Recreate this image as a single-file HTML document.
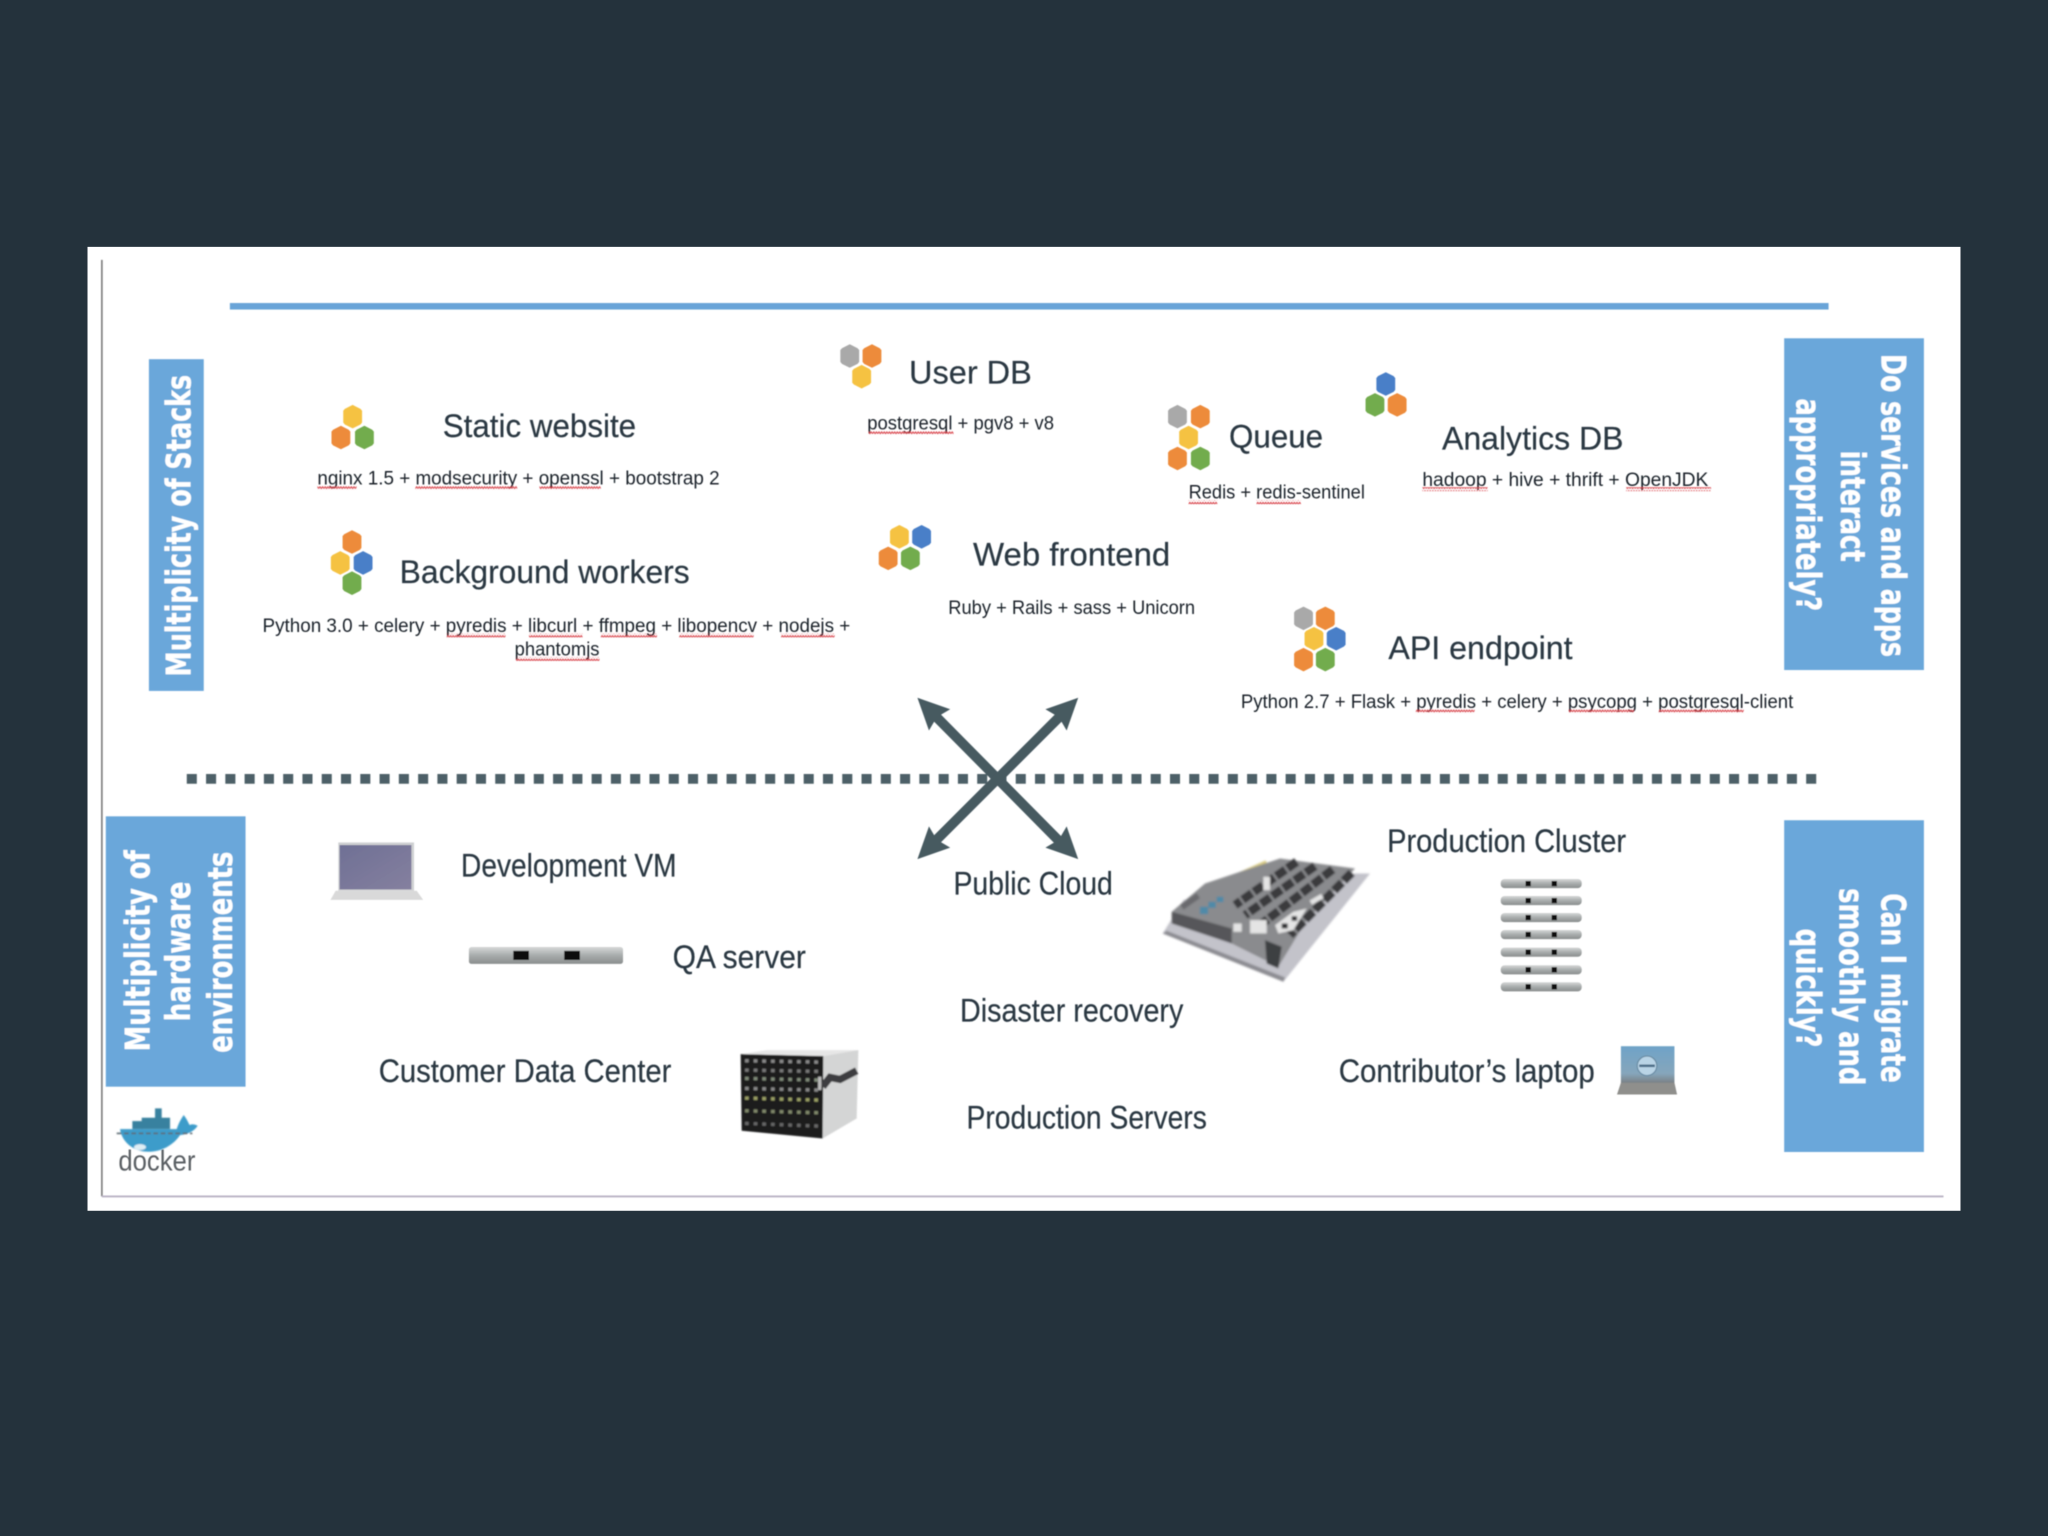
<!DOCTYPE html>
<html><head><meta charset="utf-8"><title>Docker matrix</title>
<style>
html,body{margin:0;padding:0;background:#24323c;width:2048px;height:1536px;overflow:hidden}
svg{display:block}
text{font-family:"Liberation Sans",sans-serif}
.h{font-size:25px;fill:#2a3842;stroke:#2a3842;stroke-width:.15}
.s{font-size:14.5px;fill:#1a242a}
.b{font-family:"DejaVu Sans",sans-serif;font-weight:bold;font-size:26px;fill:#fff;stroke:#fff;stroke-width:.25;text-anchor:middle}
</style></head><body>
<svg width="2048" height="1536" viewBox="0 0 1568 1176" xmlns="http://www.w3.org/2000/svg">
<defs>
<filter id="bl" x="-5%" y="-5%" width="110%" height="110%"><feGaussianBlur stdDeviation="0.5"/></filter>
<filter id="bl2" x="-10%" y="-10%" width="120%" height="120%"><feGaussianBlur stdDeviation="3.2"/></filter>
<filter id="bl3" x="-10%" y="-10%" width="120%" height="120%"><feGaussianBlur stdDeviation="2.4"/></filter>
<pattern id="w" width="4" height="3" patternUnits="userSpaceOnUse"><path d="M0 2 L1 0.7 L2 2 L3 0.7 L4 2" fill="none" stroke="#d8434a" stroke-width="0.8"/></pattern>
<polygon id="hx" points="0,-9 6,-6 7.2,-4.500 7.2,4.500 6,6 0,9 -6,6 -7.2,4.500 -7.2,-4.500 -6,-6"/>
<g id="ar"><polygon points="0,0 24,-11.500 21,0 24,11.500" fill="#465a61"/></g>
<linearGradient id="srv" x1="0" y1="0" x2="0" y2="1"><stop offset="0" stop-color="#d6d8d8"/><stop offset="0.5" stop-color="#a8acac"/><stop offset="1" stop-color="#8a8e8e"/></linearGradient>
<linearGradient id="lap" x1="0" y1="0" x2="1" y2="1"><stop offset="0" stop-color="#6f7095"/><stop offset="1" stop-color="#85809f"/></linearGradient>
<linearGradient id="dell" x1="0" y1="0" x2="0" y2="1"><stop offset="0" stop-color="#6fa3c8"/><stop offset="0.7" stop-color="#86a6bb"/><stop offset="1" stop-color="#777"/></linearGradient>
</defs>
<rect width="1568" height="1176" fill="#24323c"/>
<rect x="67" y="189" width="1434" height="738" fill="#fff"/>
<g filter="url(#bl)">
<line x1="78" y1="199" x2="78" y2="916" stroke="#777" stroke-width="1.2"/>
<line x1="78" y1="916" x2="1488" y2="916" stroke="#b9b2c4" stroke-width="1.4"/>
<rect x="176" y="232" width="1224" height="5" fill="#69a4d8"/>

<rect x="114" y="275" width="42" height="254" fill="#6ba7da"/>
<rect x="81" y="625" width="107" height="207" fill="#6ba7da"/>
<rect x="1366" y="259" width="107" height="254" fill="#6ba7da"/>
<rect x="1366" y="628" width="107" height="254" fill="#6ba7da"/>

<text class="b" transform="translate(146,402.5) rotate(-90)" textLength="231" lengthAdjust="spacingAndGlyphs">Multiplicity of Stacks</text>
<text class="b" transform="translate(114.500,728) rotate(-90)" textLength="154" lengthAdjust="spacingAndGlyphs">Multiplicity of</text>
<text class="b" transform="translate(145.500,728.5) rotate(-90)" textLength="107" lengthAdjust="spacingAndGlyphs">hardware</text>
<text class="b" transform="translate(177.500,729) rotate(-90)" textLength="154" lengthAdjust="spacingAndGlyphs">environments</text>

<text class="b" transform="translate(1440.5,387) rotate(90)" textLength="232" lengthAdjust="spacingAndGlyphs">Do services and apps</text>
<text class="b" transform="translate(1409.5,387.5) rotate(90)" textLength="85" lengthAdjust="spacingAndGlyphs">interact</text>
<text class="b" transform="translate(1375.5,386.5) rotate(90)" textLength="163" lengthAdjust="spacingAndGlyphs">appropriately?</text>

<text class="b" transform="translate(1440.5,756.5) rotate(90)" textLength="145" lengthAdjust="spacingAndGlyphs">Can I migrate</text>
<text class="b" transform="translate(1408.5,755.5) rotate(90)" textLength="151" lengthAdjust="spacingAndGlyphs">smoothly and</text>
<text class="b" transform="translate(1375.5,756.5) rotate(90)" textLength="91" lengthAdjust="spacingAndGlyphs">quickly?</text>

<!-- hex icons -->
<g fill="#f5c242"><use href="#hx" x="270" y="319"/><use href="#hx" x="260.5" y="431"/><use href="#hx" x="659.7" y="288.4"/><use href="#hx" x="910" y="335"/><use href="#hx" x="688.6" y="411"/><use href="#hx" x="1006" y="489"/></g>
<g fill="#ed8b3a"><use href="#hx" x="261" y="335"/><use href="#hx" x="269.5" y="415"/><use href="#hx" x="667.6" y="272.6"/><use href="#hx" x="919" y="319"/><use href="#hx" x="901.5" y="351"/><use href="#hx" x="1069.7" y="310"/><use href="#hx" x="680" y="427.5"/><use href="#hx" x="1014.7" y="473.4"/><use href="#hx" x="998" y="505"/></g>
<g fill="#72ac4d"><use href="#hx" x="279" y="335"/><use href="#hx" x="269.5" y="446.5"/><use href="#hx" x="919" y="351"/><use href="#hx" x="1052.7" y="310"/><use href="#hx" x="697" y="427.5"/><use href="#hx" x="1014.7" y="505"/></g>
<g fill="#4a7fc8"><use href="#hx" x="278" y="431"/><use href="#hx" x="1061" y="294"/><use href="#hx" x="705.6" y="411"/><use href="#hx" x="1023" y="489"/></g>
<g fill="#a9a9a9"><use href="#hx" x="650.6" y="272.6"/><use href="#hx" x="901.5" y="319"/><use href="#hx" x="998" y="473.4"/></g>

<!-- headings -->
<text class="h" x="339" y="334.5" textLength="148" lengthAdjust="spacingAndGlyphs">Static website</text>
<text class="h" x="696" y="293.5" textLength="94" lengthAdjust="spacingAndGlyphs">User DB</text>
<text class="h" x="941" y="342.5" textLength="72" lengthAdjust="spacingAndGlyphs">Queue</text>
<text class="h" x="1104" y="344" textLength="139" lengthAdjust="spacingAndGlyphs">Analytics DB</text>
<text class="h" x="306" y="446.500" textLength="222" lengthAdjust="spacingAndGlyphs">Background workers</text>
<text class="h" x="745" y="433" textLength="151" lengthAdjust="spacingAndGlyphs">Web frontend</text>
<text class="h" x="1063" y="504.500" textLength="141" lengthAdjust="spacingAndGlyphs">API endpoint</text>
<text class="h" x="353" y="671" textLength="165" lengthAdjust="spacingAndGlyphs">Development VM</text>
<text class="h" x="515" y="741" textLength="102" lengthAdjust="spacingAndGlyphs">QA server</text>
<text class="h" x="290" y="828.500" textLength="224" lengthAdjust="spacingAndGlyphs">Customer Data Center</text>
<text class="h" x="730" y="685" textLength="122" lengthAdjust="spacingAndGlyphs">Public Cloud</text>
<text class="h" x="1062" y="652.500" textLength="183" lengthAdjust="spacingAndGlyphs">Production Cluster</text>
<text class="h" x="735" y="782" textLength="171" lengthAdjust="spacingAndGlyphs">Disaster recovery</text>
<text class="h" x="740" y="864" textLength="184" lengthAdjust="spacingAndGlyphs">Production Servers</text>
<text class="h" x="1025" y="828.500" textLength="196" lengthAdjust="spacingAndGlyphs">Contributor’s laptop</text>

<!-- small text -->
<text class="s" x="243" y="371" textLength="308" lengthAdjust="spacingAndGlyphs">nginx 1.5 + modsecurity + openssl + bootstrap 2</text>
<text class="s" x="664" y="329" textLength="143" lengthAdjust="spacingAndGlyphs">postgresql + pgv8 + v8</text>
<text class="s" x="910" y="381.500" textLength="135" lengthAdjust="spacingAndGlyphs">Redis + redis-sentinel</text>
<text class="s" x="1089" y="372" textLength="219" lengthAdjust="spacingAndGlyphs">hadoop + hive + thrift + OpenJDK</text>
<text class="s" x="201" y="484" textLength="450" lengthAdjust="spacingAndGlyphs">Python 3.0 + celery + pyredis + libcurl + ffmpeg + libopencv + nodejs +</text>
<text class="s" x="394" y="502" textLength="65" lengthAdjust="spacingAndGlyphs">phantomjs</text>
<text class="s" x="726" y="470" textLength="189" lengthAdjust="spacingAndGlyphs">Ruby + Rails + sass + Unicorn</text>
<text class="s" x="950" y="542" textLength="423" lengthAdjust="spacingAndGlyphs">Python 2.7 + Flask + pyredis + celery + psycopg + postgresql-client</text>

<!-- squiggles -->
<g fill="url(#w)">
<rect x="243" y="372" width="30" height="3"/><rect x="318" y="372" width="78" height="3"/><rect x="413" y="372" width="47" height="3"/>
<rect x="665" y="330" width="65" height="3"/>
<rect x="910" y="383" width="22" height="3"/><rect x="962" y="383" width="34" height="3"/>
<rect x="1089" y="373" width="50" height="3"/><rect x="1245" y="373" width="65" height="3"/>
<rect x="342" y="485" width="45" height="3"/><rect x="405" y="485" width="41" height="3"/><rect x="460" y="485" width="43" height="3"/><rect x="520" y="485" width="57" height="3"/><rect x="598" y="485" width="41" height="3"/><rect x="395" y="503" width="64" height="3"/>
<rect x="1084" y="543" width="45" height="3"/><rect x="1201" y="543" width="50" height="3"/><rect x="1270" y="543" width="65" height="3"/>
</g>

<!-- dotted line -->
<line x1="143" y1="596.3" x2="1392" y2="596.3" stroke="#4d6067" stroke-width="7.5" stroke-dasharray="7.7 7.06"/>

<!-- cross arrows -->
<g stroke="#465a61" stroke-width="7.5" fill="none">
<line x1="716" y1="548" x2="811" y2="644"/><line x1="812" y1="548" x2="716" y2="644"/>
</g>
<use href="#ar" transform="translate(702.4,534.2) rotate(45)"/>
<use href="#ar" transform="translate(825.5,534.2) rotate(135)"/>
<use href="#ar" transform="translate(825.5,657.8) rotate(225)"/>
<use href="#ar" transform="translate(702.4,657.8) rotate(315)"/>

<!-- laptop -->
<rect x="259" y="645" width="58" height="37" fill="#cfd0d2"/>
<rect x="260" y="647" width="55" height="34" fill="url(#lap)"/>
<polygon points="257,682 319,682 324,689 253,689" fill="#d9d9d9"/>

<!-- QA server -->
<rect x="359" y="725" width="118" height="13" rx="2" fill="url(#srv)"/>
<rect x="393" y="728" width="12" height="7" fill="#111"/><rect x="432" y="728" width="12" height="7" fill="#111"/>

<!-- cluster -->
<g fill="url(#srv)">
<rect x="1149" y="673" width="62" height="7" rx="3"/><rect x="1149" y="686" width="62" height="7" rx="3"/><rect x="1149" y="699" width="62" height="7" rx="3"/><rect x="1149" y="712" width="62" height="7" rx="3"/><rect x="1149" y="725.500" width="62" height="7" rx="3"/><rect x="1149" y="739" width="62" height="7" rx="3"/><rect x="1149" y="752" width="62" height="7" rx="3"/>
</g>
<g fill="#111">
<rect x="1168" y="674.500" width="4" height="4"/><rect x="1188" y="674.500" width="4" height="4"/>
<rect x="1168" y="687.500" width="4" height="4"/><rect x="1188" y="687.500" width="4" height="4"/>
<rect x="1168" y="700.500" width="4" height="4"/><rect x="1188" y="700.500" width="4" height="4"/>
<rect x="1168" y="713.500" width="4" height="4"/><rect x="1188" y="713.500" width="4" height="4"/>
<rect x="1168" y="727" width="4" height="4"/><rect x="1188" y="727" width="4" height="4"/>
<rect x="1168" y="740.500" width="4" height="4"/><rect x="1188" y="740.500" width="4" height="4"/>
<rect x="1168" y="753.500" width="4" height="4"/><rect x="1188" y="753.500" width="4" height="4"/>
</g>

<!-- dell laptop -->
<rect x="1241" y="801" width="41" height="30" fill="url(#dell)"/>
<polygon points="1241,829 1282,829 1284,838 1238,838" fill="#8f8f8c"/>
<circle cx="1261" cy="816" r="7.500" fill="#b9d4e6" stroke="#6c8ea6"/>
<rect x="1255" y="815" width="12" height="2" fill="#50708a"/>

<text x="90.6" y="896" font-size="22" fill="#5a5f63" textLength="59" lengthAdjust="spacingAndGlyphs">docker</text>
</g>

<!-- blade server -->
<g transform="translate(558.9,796.3) scale(.2552)" filter="url(#bl3)">
<polygon points="32,42 110,30 385,30 280,48" fill="#e6e6e6"/>
<polygon points="280,48 385,30 380,235 278,295" fill="#d4d5d5"/>
<polygon points="32,42 280,48 278,295 35,272" fill="#1c1d1f"/>
<g stroke-width="10" fill="none" stroke-dasharray="11 15">
<line x1="45" y1="62" x2="265" y2="66" stroke="#888"/>
<line x1="45" y1="90" x2="265" y2="94" stroke="#777"/>
<line x1="45" y1="115" x2="265" y2="120" stroke="#7f8a78"/>
<line x1="45" y1="145" x2="265" y2="150" stroke="#888"/>
<line x1="45" y1="174" x2="265" y2="180" stroke="#9a9f65"/>
<line x1="45" y1="212" x2="265" y2="218" stroke="#80886a"/>
<line x1="45" y1="250" x2="265" y2="258" stroke="#666"/>
</g>
<path d="M278 140 L300 112 L330 118 L380 92" stroke="#3c3d40" stroke-width="22" fill="none"/>
<rect x="264" y="110" width="10" height="40" fill="#bbb"/>
</g>

<!-- public cloud board -->
<g transform="translate(880.5,643.2) scale(.2552)" filter="url(#bl2)">
<polygon points="38,280 100,180 390,100 660,100 400,425" fill="#c3c3ca"/>
<polygon points="38,280 400,425 405,412 50,272" fill="#8d8d93"/>
<line x1="200" y1="135" x2="350" y2="68" stroke="#d9cb80" stroke-width="16"/>
<polygon points="65,215 165,130 390,55 615,85 470,240 385,380 245,310" fill="#8a8b8e"/>
<polygon points="65,215 245,265 245,310 65,250" fill="#56575a"/>
<g stroke="#3a3b3e" stroke-width="26" fill="none" stroke-dasharray="34 7">
<line x1="440" y1="65" x2="255" y2="195"/>
<line x1="495" y1="78" x2="285" y2="225"/>
<line x1="548" y1="88" x2="330" y2="255"/>
<line x1="605" y1="98" x2="420" y2="285"/>
</g>
<g fill="#e4e4e4"><rect x="340" y="110" width="20" height="40"/><rect x="300" y="240" width="50" height="40"/><rect x="250" y="250" width="25" height="25"/><polygon points="375,255 430,215 470,205 430,270 385,280"/><rect x="480" y="170" width="40" height="15" transform="rotate(-30 500 178)"/></g>
<g fill="#2b2c2e"><rect x="395" y="250" width="18" height="15"/><rect x="425" y="228" width="16" height="14"/></g>
<g fill="#4f8aa8"><rect x="150" y="200" width="24" height="22"/><rect x="175" y="185" width="22" height="18"/><rect x="200" y="170" width="20" height="16"/></g>
<polygon points="345,300 395,320 385,385 350,370" fill="#3e3f42"/>
<rect x="90" y="175" width="60" height="18" fill="#6a6b6e" transform="rotate(-35 120 184)"/>
</g>

<!-- docker -->
<g transform="translate(80.4,838.4) scale(.2552)" filter="url(#bl3)">
<rect x="150" y="40" width="20" height="30" fill="#37819f"/>
<rect x="110" y="68" width="85" height="34" fill="#37819f"/>
<rect x="82" y="78" width="30" height="24" fill="#37819f"/>
<path d="M45 102 L215 102 C222 80 232 66 236 60 C246 72 250 84 254 90 C262 86 270 88 278 92 C268 108 248 118 225 120 C205 150 170 170 130 170 C85 170 50 140 45 102Z" fill="#3c9cca"/>
<ellipse cx="105" cy="156" rx="18" ry="9" fill="#dfeef5"/>
<line x1="35" y1="115" x2="262" y2="115" stroke="#5d6a72" stroke-width="5" stroke-dasharray="14 8"/>
</g>
</svg>
</body></html>
